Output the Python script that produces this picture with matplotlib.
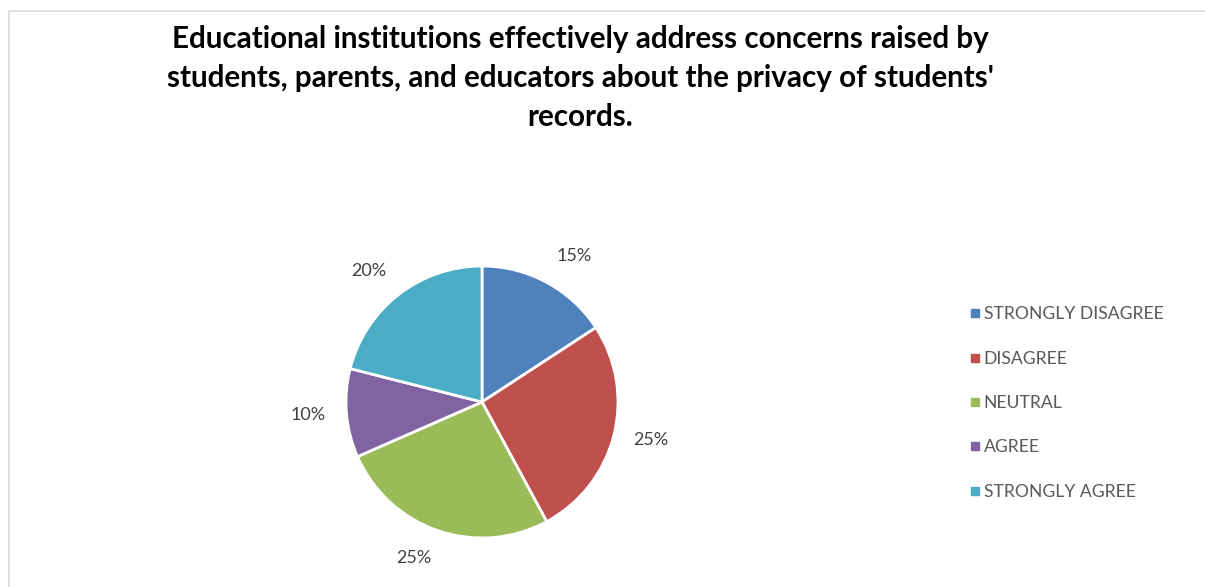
import numpy as np
import matplotlib.pyplot as plt
from matplotlib.lines import Line2D
from matplotlib.patches import Rectangle

categories = ['STRONGLY DISAGREE', 'DISAGREE', 'NEUTRAL', 'AGREE', 'STRONGLY AGREE']
values = [15, 25, 25, 10, 20]
colors = ['#4F81BD', '#C0504D', '#9BBB59', '#8064A2', '#4BACC6']
title = ("Educational institutions effectively address concerns raised by\n"
         "students, parents, and educators about the privacy of students'\n"
         "records.")

plt.rcParams['font.family'] = ['Lato', 'DejaVu Sans']

W, H = 1205, 587
fig = plt.figure(figsize=(W / 100, H / 100), dpi=100)

# thin chart-area border
fig.add_artist(Rectangle((9 / W, -0.1), 1.1, 1 - 11 / H + 0.1, transform=fig.transFigure,
                         fill=False, edgecolor='#D9D9D9', linewidth=1.2))

fig.text(580 / W, 1 - 78 / H, title, ha='center', va='center', fontsize=21.3,
         fontweight='bold', color='black', linespacing=1.48)

cx, cy, r = 482, 402, 136
ax = fig.add_axes([(cx - r) / W, (H - cy - r) / H, 2 * r / W, 2 * r / H])
wedges, texts = ax.pie(values, colors=colors, startangle=90, counterclock=False,
                       labels=[f'{v}%' for v in values], labeldistance=1.15,
                       wedgeprops=dict(edgecolor='white', linewidth=2))
# push each label outward so its box sits just off the rim
for w, t in zip(wedges, texts):
    mid = np.deg2rad((w.theta1 + w.theta2) / 2)
    s = np.sin(mid)
    t.set_va('center' if abs(s) < 0.3 else ('bottom' if s > 0 else 'top'))
    t.set_fontsize(13)
    t.set_color('#404040')
ax.set_xlim(-1, 1)
ax.set_ylim(-1, 1)
ax.set_aspect('equal')

handles = [Line2D([], [], marker='s', linestyle='none', markersize=6,
                  markerfacecolor=c, markeredgecolor=c) for c in colors]
fig.legend(handles, categories, loc='center left', bbox_to_anchor=(961 / W, 1 - 403 / H),
           frameon=False, fontsize=12.6, labelcolor='#595959', handlelength=0.6,
           handletextpad=0.2, labelspacing=1.62, borderpad=0)

fig.savefig('out.png', dpi=100)
